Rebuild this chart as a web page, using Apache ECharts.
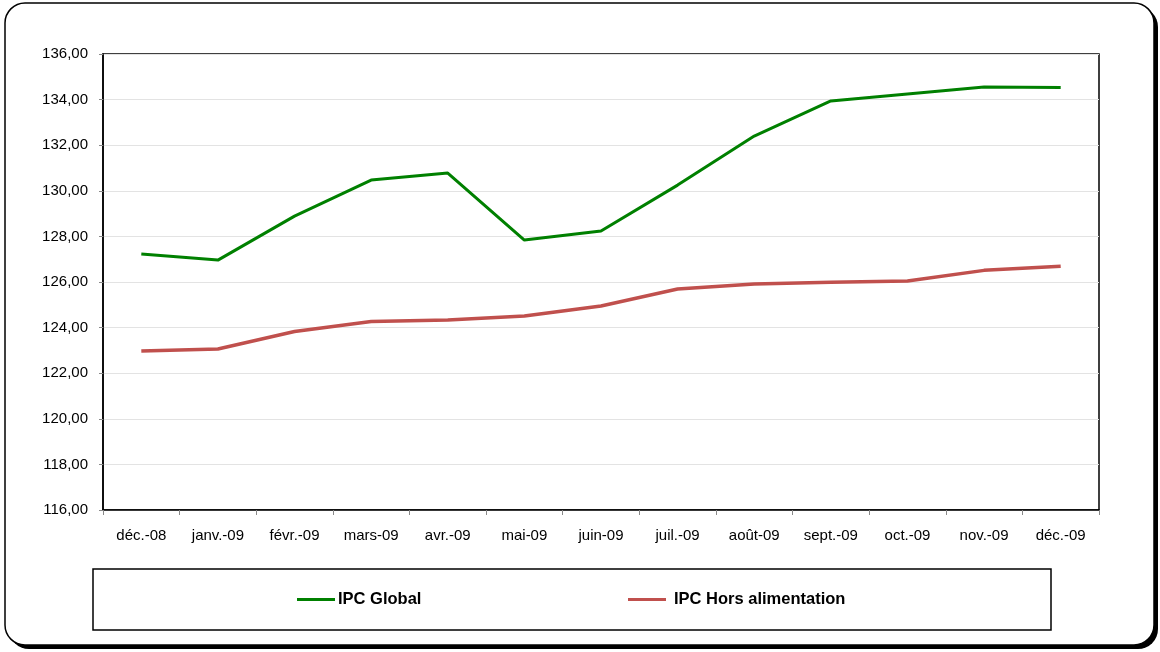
<!DOCTYPE html>
<html>
<head>
<meta charset="utf-8">
<style>
html,body{margin:0;padding:0;background:#fff;}
#chart{width:1160px;height:652px;}
</style>
<script src="https://cdn.jsdelivr.net/npm/echarts@6/dist/echarts.min.js"></script>
</head>
<body>
<div id="chart"></div>
<script>
const categories = ['déc.-08','janv.-09','févr.-09','mars-09','avr.-09','mai-09','juin-09','juil.-09','août-09','sept.-09','oct.-09','nov.-09','déc.-09'];
const ipcGlobal = [127.23, 126.96, 128.89, 130.47, 130.78, 127.84, 128.24, 130.25, 132.40, 133.94, 134.25, 134.55, 134.53];
const ipcHorsAlim = [122.97, 123.06, 123.83, 124.27, 124.33, 124.51, 124.95, 125.69, 125.91, 125.99, 126.04, 126.51, 126.69];
const seriesNames = ['IPC Global', 'IPC Hors alimentation'];
const yMin = 116, yMax = 136, yStep = 2;

const chart = echarts.init(document.getElementById('chart'), null, {renderer: 'canvas'});
const font = 'Liberation Sans, Arial, sans-serif';
chart.setOption({
  animation: false,
  backgroundColor: '#fff',
  graphic: [
    {type: 'rect', z: -110, shape: {x: 9, y: 7, width: 1149, height: 642, r: 20},
     style: {fill: '#000', stroke: null}},
    {type: 'rect', z: -100, shape: {x: 5, y: 3, width: 1149, height: 642, r: 20},
     style: {fill: '#fff', stroke: '#000', lineWidth: 1.5}},
    {type: 'rect', z: -50, shape: {x: 93, y: 569, width: 958, height: 61},
     style: {fill: '#fff', stroke: '#000', lineWidth: 1.5}}
  ],
  grid: {left: 103, right: 61, top: 54, bottom: 142, show: true, borderColor: '#000', borderWidth: 1.5, backgroundColor: 'transparent'},
  legend: [
    {data: [seriesNames[0]], left: 297, top: 591, padding: 0, itemWidth: 38, itemHeight: 3, icon: 'rect',
     textStyle: {fontFamily: font, fontSize: 16.5, fontWeight: 'bold', color: '#000', padding: [0,0,0,-2]}},
    {data: [seriesNames[1]], left: 628, top: 591, padding: 0, itemWidth: 38, itemHeight: 3, icon: 'rect',
     textStyle: {fontFamily: font, fontSize: 16.5, fontWeight: 'bold', color: '#000', padding: [0,0,0,3]}}
  ],
  xAxis: {
    type: 'category', data: categories, boundaryGap: true,
    axisLine: {lineStyle: {color: '#000', width: 1.5}},
    axisTick: {show: true, length: 5, lineStyle: {color: '#888'}},
    axisLabel: {fontFamily: font, fontSize: 15, color: '#000', margin: 18, interval: 0}
  },
  yAxis: {
    type: 'value', min: yMin, max: yMax, interval: yStep,
    axisLine: {show: true, lineStyle: {color: '#000', width: 1.5}},
    axisTick: {show: true, length: 4, lineStyle: {color: '#888'}},
    axisLabel: {fontFamily: font, fontSize: 15, color: '#000', margin: 15,
      formatter: v => v.toFixed(2).replace('.', ',')},
    splitLine: {show: true, lineStyle: {color: '#e3e3e3', width: 1}}
  },
  series: [
    {name: seriesNames[0], type: 'line', data: ipcGlobal, symbol: 'none', lineStyle: {color: '#008000', width: 3}, itemStyle: {color: '#008000'}, z: 3},
    {name: seriesNames[1], type: 'line', data: ipcHorsAlim, symbol: 'none', lineStyle: {color: '#C0504D', width: 3.5}, itemStyle: {color: '#C0504D'}, z: 2}
  ]
});
</script>
</body>
</html>
